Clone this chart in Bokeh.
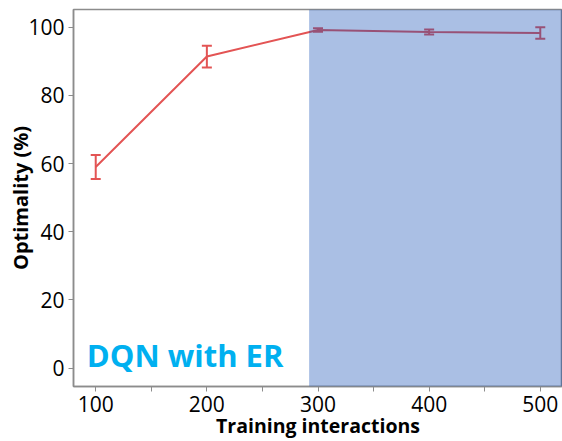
from bokeh.plotting import figure
from bokeh.models import ColumnDataSource, Whisker, BoxAnnotation, FixedTicker, Label, TeeHead
from bokeh.embed import file_html
from bokeh.resources import INLINE

interactions = [100, 200, 300, 400, 500]
optimality = [59.0, 91.4, 99.2, 98.6, 98.3]
err = [3.5, 3.2, 0.5, 0.7, 1.7]
x_ticks = [100, 200, 300, 400, 500]
x_minor = [150, 250, 350, 450]
y_ticks = [0, 20, 40, 60, 80, 100]
shade_start = 292
annotation_text = "DQN with ER"
x_title = "Training interactions"
y_title = "Optimality (%)"

lower = [v - e for v, e in zip(optimality, err)]
upper = [v + e for v, e in zip(optimality, err)]
src = ColumnDataSource(dict(x=interactions, y=optimality, lower=lower, upper=upper))

FONT = "Open Sans"
p = figure(width=562, height=441, x_range=(80, 520), y_range=(-5.4, 105.2),
           output_backend="svg", toolbar_location=None,
           min_border_left=73, min_border_right=0, min_border_top=9, min_border_bottom=55)
p.background_fill_color = "white"
p.border_fill_color = "white"
p.outline_line_color = "#8c8c8c"
p.outline_line_width = 1.5
p.xgrid.visible = False
p.ygrid.visible = False

red = "#e35454"
p.line("x", "y", source=src, line_color=red, line_width=2)
w = Whisker(source=src, base="x", lower="lower", upper="upper", line_color=red, line_width=2,
            upper_head=TeeHead(size=10, line_color=red, line_width=2),
            lower_head=TeeHead(size=10, line_color=red, line_width=2))
p.add_layout(w)

box = BoxAnnotation(left=shade_start, fill_color=(19, 78, 180), fill_alpha=0.36, line_alpha=0)
p.add_layout(box)

lbl = Label(x=92, y=-2.2, text=annotation_text, text_color="#00b0f0", text_font=FONT,
            text_font_style="bold", text_font_size="31px")
p.add_layout(lbl)

for ax in (p.xaxis[0], p.yaxis[0]):
    ax.axis_line_color = "#8c8c8c"
    ax.axis_line_width = 1.5
    ax.major_tick_line_color = "#8c8c8c"
    ax.minor_tick_line_color = "#8c8c8c"
    ax.major_tick_out = 5
    ax.major_tick_in = 0
    ax.minor_tick_out = 5
    ax.minor_tick_in = 0
    ax.major_label_text_font = FONT
    ax.major_label_text_font_size = "21px"
    ax.major_label_text_color = "black"
    ax.axis_label_text_font = FONT
    ax.axis_label_text_font_style = "bold"
    ax.axis_label_text_color = "black"

p.xaxis.ticker = FixedTicker(ticks=x_ticks, minor_ticks=x_minor)
p.yaxis.ticker = FixedTicker(ticks=y_ticks, minor_ticks=[])
p.xaxis.major_label_standoff = 4
p.yaxis.major_label_standoff = 4
p.xaxis.axis_label = x_title
p.yaxis.axis_label = y_title
p.xaxis.axis_label_text_font_size = "19.5px"
p.yaxis.axis_label_text_font_size = "20px"
p.xaxis.axis_label_standoff = -3
p.yaxis.axis_label_standoff = -9

open("out.html", "w").write(file_html(p, INLINE))
